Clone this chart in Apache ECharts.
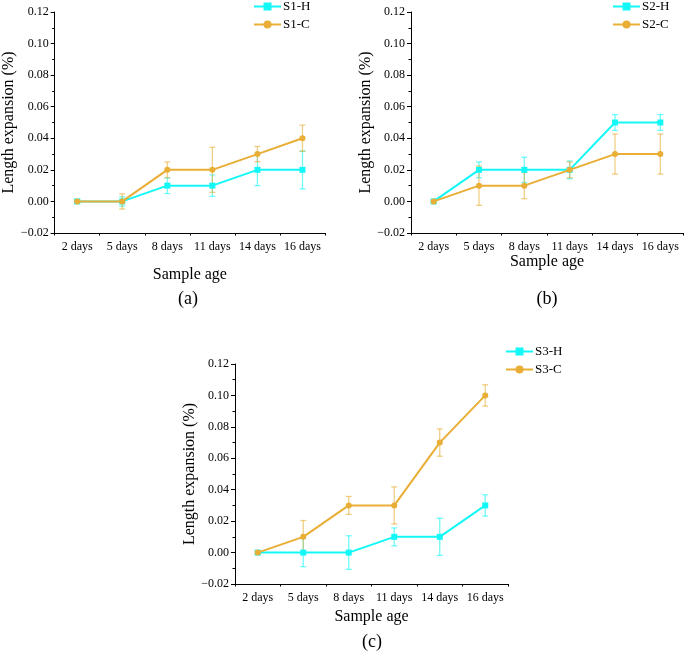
<!DOCTYPE html>
<html>
<head>
<meta charset="utf-8">
<script src="https://cdn.jsdelivr.net/npm/echarts@6/dist/echarts.min.js"></script>
<style>html,body{margin:0;padding:0;background:#fff}#c{width:685px;height:653px}</style>
</head>
<body>
<div id="c"></div>
<script>
const categories = ['2 days', '5 days', '8 days', '11 days', '14 days', '16 days'];
const yTicks = [-0.02, 0.12, 0.02];
// Panel (a)
const s1H = [0, 0, 0.01, 0.01, 0.02, 0.02];
const s1HErr = [0.001, 0.003, 0.005, 0.0068, 0.01, 0.012];
const s1C = [0, 0, 0.02, 0.02, 0.03, 0.04];
const s1CErr = [0.001, 0.0048, 0.005, 0.0143, 0.0048, 0.0083];
// Panel (b)
const s2H = [0, 0.02, 0.02, 0.02, 0.05, 0.05];
const s2HErr = [0.001, 0.005, 0.008, 0.0056, 0.005, 0.005];
const s2C = [0, 0.01, 0.01, 0.02, 0.03, 0.03];
const s2CErr = [0.001, 0.0125, 0.0083, 0.005, 0.0127, 0.0127];
// Panel (c)
const s3H = [0, 0, 0, 0.01, 0.01, 0.03];
const s3HErr = [0.001, 0.009, 0.0107, 0.0057, 0.0118, 0.0068];
const s3C = [0, 0.01, 0.03, 0.03, 0.07, 0.10];
const s3CErr = [0.001, 0.0104, 0.0057, 0.0118, 0.0087, 0.0068];

const panels = [
  {names: ['S1-H', 'S1-C'], h: s1H, hE: s1HErr, c: s1C, cE: s1CErr, label: '(a)'},
  {names: ['S2-H', 'S2-C'], h: s2H, hE: s2HErr, c: s2C, cE: s2CErr, label: '(b)'},
  {names: ['S3-H', 'S3-C'], h: s3H, hE: s3HErr, c: s3C, cE: s3CErr, label: '(c)'}
];

const CYAN = '#14F7F7';
const ORANGE = '#E8AE36';
const FONT = '"Liberation Serif", "Times New Roman", serif';

const layout = [
  {left: 51, top: 12, width: 274, height: 221, nameGap: 34, yGap: 35, lab: [188, 290], leg: [253, 0]},
  {left: 411, top: 12, width: 272, height: 221, nameGap: 18, yGap: 36, lab: [547, 290], leg: [612, 0]},
  {left: 235, top: 364, width: 273, height: 220, nameGap: 25, yGap: 35, lab: [372, 633], leg: [505, 345]}
];

const grids = [], xAxes = [], yAxes = [], series = [], legends = [], titles = [];

function fmt(v) {
  const s = Math.abs(v).toFixed(2);
  return v < -1e-9 ? '\u2212' + s : s;
}

function errSeries(vals, errs, color, xi, yi) {
  const data = vals.map((v, i) => [i, v - errs[i], v + errs[i]]);
  return {
    type: 'custom', xAxisIndex: xi, yAxisIndex: yi, z: 1, silent: true,
    data: data,
    encode: {x: 0, y: [1, 2]},
    renderItem: function (params, api) {
      const lo = api.coord([api.value(0), api.value(1)]);
      const hi = api.coord([api.value(0), api.value(2)]);
      const w = 3;
      const st = {stroke: color, lineWidth: 1.3, opacity: 0.6};
      return {type: 'group', children: [
        {type: 'line', shape: {x1: lo[0], y1: lo[1], x2: hi[0], y2: hi[1]}, style: st},
        {type: 'line', shape: {x1: lo[0] - w, y1: lo[1], x2: lo[0] + w, y2: lo[1]}, style: st},
        {type: 'line', shape: {x1: hi[0] - w, y1: hi[1], x2: hi[0] + w, y2: hi[1]}, style: st}
      ]};
    }
  };
}

panels.forEach((p, i) => {
  const L = layout[i];
  grids.push({left: L.left, top: L.top, width: L.width, height: L.height, containLabel: false});
  xAxes.push({
    type: 'category', gridIndex: i, data: categories, boundaryGap: true, position: 'bottom',
    name: 'Sample age', nameLocation: 'middle', nameGap: L.nameGap,
    nameTextStyle: {fontFamily: FONT, fontSize: 16, color: '#000'},
    axisLine: {onZero: false, lineStyle: {color: '#000', width: 1}},
    axisTick: {alignWithLabel: true, length: 4, lineStyle: {color: '#000'}},
    axisLabel: {fontFamily: FONT, fontSize: 12, color: '#000', margin: 8, interval: 0},
    splitLine: {show: false}
  });
  xAxes.push({
    type: 'category', gridIndex: i, data: categories, boundaryGap: true, position: 'bottom',
    axisLine: {show: false, onZero: false},
    axisTick: {show: true, alignWithLabel: false, interval: 0, length: 2.5, lineStyle: {color: '#000'}},
    axisLabel: {show: false}, splitLine: {show: false}
  });
  yAxes.push({
    type: 'value', gridIndex: i, min: yTicks[0], max: yTicks[1], interval: yTicks[2],
    name: 'Length expansion (%)', nameLocation: 'middle', nameGap: L.yGap,
    nameTextStyle: {fontFamily: FONT, fontSize: 16, color: '#000'},
    axisLine: {show: true, onZero: false, lineStyle: {color: '#000', width: 1}},
    axisTick: {show: true, length: 4, lineStyle: {color: '#000'}},
    minorTick: {show: true, splitNumber: 2, length: 2.5, lineStyle: {color: '#000'}},
    axisLabel: {fontFamily: FONT, fontSize: 12, color: '#000', margin: 6, formatter: fmt},
    splitLine: {show: false}
  });
  const xi = 2 * i;
  series.push(errSeries(p.h, p.hE, CYAN, xi, i));
  series.push(errSeries(p.c, p.cE, ORANGE, xi, i));
  series.push({
    name: p.names[0], type: 'line', xAxisIndex: xi, yAxisIndex: i, data: p.h, z: 3,
    symbol: 'rect', symbolSize: 6, color: CYAN,
    lineStyle: {width: 2, color: CYAN}, itemStyle: {color: CYAN}
  });
  series.push({
    name: p.names[1], type: 'line', xAxisIndex: xi, yAxisIndex: i, data: p.c, z: 4,
    symbol: 'circle', symbolSize: 6, color: ORANGE,
    lineStyle: {width: 2, color: ORANGE}, itemStyle: {color: ORANGE}
  });
  legends.push({
    data: p.names, orient: 'vertical', left: L.leg[0], top: L.leg[1],
    itemWidth: 27, itemHeight: 10, itemGap: 5,
    textStyle: {fontFamily: FONT, fontSize: 13, color: '#000', padding: [0, 0, 0, -3]},
    padding: 0
  });
  titles.push({
    text: p.label, left: L.lab[0], top: L.lab[1], textAlign: 'center',
    textStyle: {fontFamily: FONT, fontSize: 18, fontWeight: 'normal', color: '#000'},
    padding: 0
  });
});

const chart = echarts.init(document.getElementById('c'), null, {renderer: 'canvas'});
chart.setOption({
  animation: false,
  backgroundColor: '#fff',
  title: titles,
  legend: legends,
  grid: grids,
  xAxis: xAxes,
  yAxis: yAxes,
  series: series
});
</script>
</body>
</html>
